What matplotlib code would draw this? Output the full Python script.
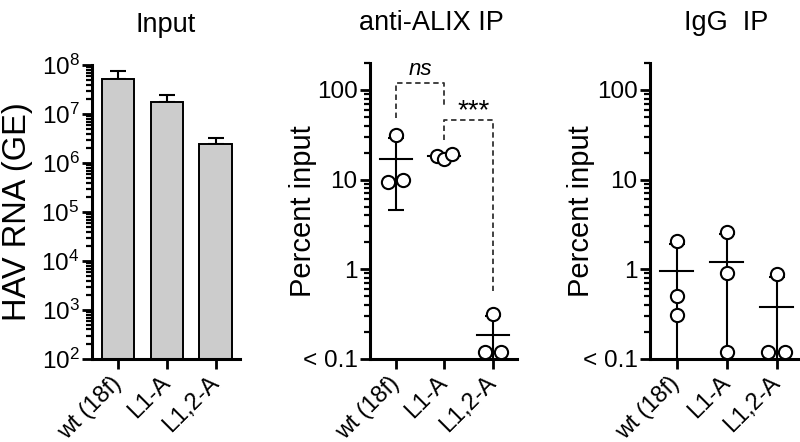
import numpy as np
import matplotlib
matplotlib.use("Agg")
import matplotlib.pyplot as plt
from matplotlib.ticker import LogLocator, FixedLocator, FixedFormatter, NullFormatter

plt.rcParams['font.family'] = ['Liberation Sans', 'DejaVu Sans']
plt.rcParams['mathtext.fontset'] = 'custom'
plt.rcParams['mathtext.rm'] = 'Liberation Sans'

groups = ["wt (18f)", "L1-A", "L1,2-A"]

# Input: bar means and upper error (GE)
input_mean = [5.2e7, 1.8e7, 2.45e6]
input_err = [2.3e7, 0.65e7, 0.75e6]

# anti-ALIX IP, percent input (3 replicates per group)
alix_vals = [[31, 9.5, 10], [18.3, 17, 19.3], [0.32, 0.12, 0.12]]
# IgG IP, percent input
igg_vals = [[2.07, 0.5, 0.31], [2.6, 0.9, 0.12], [0.89, 0.12, 0.12]]

# horizontal jitter for overlapping points
alix_jit = [[0, -0.15, 0.15], [-0.16, 0, 0.15], [0, -0.16, 0.16]]
igg_jit = [[0, 0, 0], [0, 0, 0], [0, -0.17, 0.17]]

fs_tick = 17.5
fs_lab = 21
fs_title = 19.5

fig = plt.figure(figsize=(8, 4.42), dpi=100)
ax1 = fig.add_axes([0.115, 0.1878, 0.185, 0.665])
ax2 = fig.add_axes([0.4625, 0.1878, 0.184, 0.670])
ax3 = fig.add_axes([0.8125, 0.1878, 0.19, 0.670])

x = np.arange(len(groups))


def style(ax):
    for s in ['top', 'right']:
        ax.spines[s].set_visible(False)
    for s in ['left', 'bottom']:
        ax.spines[s].set_linewidth(2.2)
    ax.tick_params(which='major', length=7, width=2, labelsize=fs_tick, pad=2)
    ax.tick_params(which='minor', length=4, width=1.6)
    ax.set_xticks(x)
    ax.set_xticklabels(groups, rotation=45, ha='right', va='center',
                       rotation_mode='anchor', fontsize=17)
    ax.tick_params(axis='x', pad=8)
    ax.set_xlim(-0.53, 2.5)


# ---- Input panel
ax1.bar(x, input_mean, width=0.66, bottom=0, color='#cccccc', edgecolor='black',
        linewidth=1.4, zorder=2)
ax1.errorbar(x, input_mean, yerr=[np.zeros(3), input_err], fmt='none', ecolor='black',
             elinewidth=1.5, capsize=6, capthick=1.5, zorder=1)
ax1.set_yscale('log')
ax1.set_ylim(1e2, 1e8)
ax1.yaxis.set_major_locator(LogLocator(base=10, numticks=10))
ax1.yaxis.set_minor_locator(LogLocator(base=10, subs=np.arange(2, 10), numticks=20))
ax1.yaxis.set_minor_formatter(NullFormatter())
style(ax1)
ax1.set_ylabel("HAV RNA (GE)", fontsize=23.5)
ax1.yaxis.set_label_coords(-0.40, 0.5)
ax1.set_title("Input", fontsize=fs_title, pad=24)


def scatter_panel(ax, vals, jit):
    for i, v in enumerate(vals):
        v = np.array(v)
        m = v.mean()
        sd = v.std(ddof=1)
        lo = min(sd, m - 0.01)
        ax.errorbar([i], [m], yerr=[[lo], [sd]], fmt='none', ecolor='black',
                    elinewidth=1.5, capsize=6, capthick=1.5, zorder=2)
        ax.plot([i - 0.33, i + 0.33], [m, m], color='black', lw=1.5, zorder=2)
        ax.plot(i + np.array(jit[i]), v, 'o', ms=9.5, mfc='white', mec='black',
                mew=1.5, zorder=3, clip_on=False)
    ax.set_yscale('log')
    ax.set_ylim(0.1, 200)
    ax.yaxis.set_major_locator(FixedLocator([0.1, 1, 10, 100]))
    ax.yaxis.set_major_formatter(FixedFormatter(["< 0.1", "1", "10", "100"]))
    ax.yaxis.set_minor_locator(LogLocator(base=10, subs=np.arange(2, 10), numticks=20))
    ax.yaxis.set_minor_formatter(NullFormatter())
    style(ax)
    ax.set_ylabel("Percent input", fontsize=fs_lab)
    ax.yaxis.set_label_coords(-0.36, 0.5)


scatter_panel(ax2, alix_vals, alix_jit)
ax2.set_title("anti-ALIX IP", fontsize=fs_title, pad=24, x=0.42)

# significance brackets
ax2.plot([0, 0, 1, 1], [49, 120, 120, 65], ls=(0, (3, 2)), color='#333333', lw=1.3,
         clip_on=False)
ax2.plot([1, 1, 2, 2], [27.6, 46, 46, 0.58], ls=(0, (3, 2)), color='#333333', lw=1.3,
         clip_on=False)
ax2.text(0.5, 170, "ns", style='italic', fontsize=16, ha='center', va='center')
ax2.text(1.6, 58, "***", fontsize=20, ha='center', va='center')

scatter_panel(ax3, igg_vals, igg_jit)
ax3.set_title("IgG  IP", fontsize=fs_title, pad=24)

fig.savefig("out.png", dpi=100)
